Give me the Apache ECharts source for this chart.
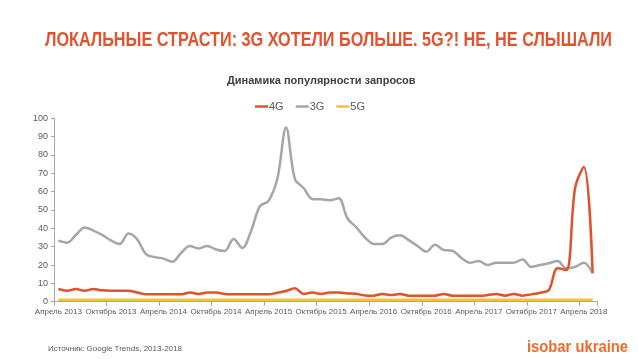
<!DOCTYPE html>
<html>
<head>
<meta charset="utf-8">
<script src="https://cdn.jsdelivr.net/npm/echarts@6/dist/echarts.min.js"></script>
<style>
html,body{margin:0;padding:0;background:#fff;}
#c{width:638px;height:359px;}
</style>
</head>
<body>
<div id="c"></div>
<script>
const categories = [
 'Апрель 2013','Май 2013','Июнь 2013','Июль 2013','Август 2013','Сентябрь 2013',
 'Октябрь 2013','Ноябрь 2013','Декабрь 2013','Январь 2014','Февраль 2014','Март 2014',
 'Апрель 2014','Май 2014','Июнь 2014','Июль 2014','Август 2014','Сентябрь 2014',
 'Октябрь 2014','Ноябрь 2014','Декабрь 2014','Январь 2015','Февраль 2015','Март 2015',
 'Апрель 2015','Май 2015','Июнь 2015','Июль 2015','Август 2015','Сентябрь 2015',
 'Октябрь 2015','Ноябрь 2015','Декабрь 2015','Январь 2016','Февраль 2016','Март 2016',
 'Апрель 2016','Май 2016','Июнь 2016','Июль 2016','Август 2016','Сентябрь 2016',
 'Октябрь 2016','Ноябрь 2016','Декабрь 2016','Январь 2017','Февраль 2017','Март 2017',
 'Апрель 2017','Май 2017','Июнь 2017','Июль 2017','Август 2017','Сентябрь 2017',
 'Октябрь 2017','Ноябрь 2017','Декабрь 2017','Январь 2018','Февраль 2018','Март 2018',
 'Апрель 2018','Май 2018'
];
const values4G = [
 6.9,6,6.9,6,6.9,6.2,6,6,6,5,4,4,
 4,4,4,5,4.2,5,5,4.2,4,4,4,4,
 4,4.9,5.8,7.3,4.2,5,4.2,5,5,4.5,4.3,3.4,
 3.3,4.2,3.6,4.2,3.3,3.3,3.3,3.3,4.2,3.3,3.3,3.3,
 3.3,3.6,4.2,3.3,4.2,3.3,4,4.9,6.4,18.2,17.3,62,
 73.5,15.5
];
const values3G = [
 33.3,32.2,36.4,40.4,38.8,36.4,33.4,31.5,37.2,34,26,24.3,
 23.5,21.8,26.5,30.4,29,30.4,28.5,27.7,34.2,29.3,38.5,52,
 55,67,95,67,62,56,55.8,55.3,56.4,45.5,40.6,35,
 31.5,31.4,35,36.2,33.6,30.4,27.3,31,28.2,27.8,23.9,21.2,
 22.2,20,21.3,21.3,21.3,23,19,20,21,22.2,18.2,19,
 21.3,15.5
];
const values5G = [
 1,1,1,1,1,1,1,1,1,1,1,1,
 1,1,1,1,1,1,1,1,1,1,1,1,
 1,1,1,1,1,1,1,1,1,1,1,1,
 1,1,1,1,1,1,1,1,1,1,1,1,
 1,1,1,1,1,1,1,1,1,1,1,1,
 1,1
];
const seriesNames = ['4G','3G','5G'];
const seriesColors = ['#e0522b','#a6a6a6','#f5c232'];
const yTicks = {min:0, max:100, interval:10};

const sans = "'Liberation Sans',Arial,sans-serif";
const titleText = 'ЛОКАЛЬНЫЕ СТРАСТИ: 3G ХОТЕЛИ БОЛЬШЕ. 5G?! НЕ, НЕ СЛЫШАЛИ';
const logoText = 'isobar ukraine';

function measure(txt, font){
  const cv = document.createElement('canvas').getContext('2d');
  cv.font = font; return cv.measureText(txt).width;
}
const titleFont = "bold 20px 'Liberation Sans'";
const titleW = measure(titleText, titleFont);
const titleScale = 567 / titleW;
const logoFont = "bold 17px 'Liberation Sans'";
const logoW = measure(logoText, logoFont);
const logoScale = 101 / logoW;

const chart = echarts.init(document.getElementById('c'), null, {renderer:'canvas'});
const allValues = [values4G, values3G, values5G];
chart.setOption({
  animation:false,
  backgroundColor:'#ffffff',
  title:[
    {text:'Динамика популярности запросов', left:222, top:70,
     textStyle:{color:'#404040', fontSize:11, fontWeight:'bold', fontFamily:sans}},
    {text:'Источник: Google Trends, 2013-2018', left:43, top:340,
     textStyle:{color:'#595959', fontSize:8, fontWeight:'normal', fontFamily:sans}}
  ],
  graphic:[
    {type:'text', x:45, y:40, scaleX:titleScale, scaleY:1,
     style:{text:titleText, font:titleFont, fill:'#e2532d', verticalAlign:'middle'}},
    {type:'text', x:527, y:347, scaleX:logoScale, scaleY:1,
     style:{text:logoText, font:logoFont, fill:'#ef6a2a', verticalAlign:'middle'}}
  ],
  legend:{
    data:seriesNames, left:250, top:96, icon:'rect', itemWidth:13, itemHeight:2.5, itemGap:12,
    textStyle:{color:'#595959', fontSize:11, fontFamily:sans, padding:[0,0,0,-4]}
  },
  grid:{left:54, right:41, top:118.3, bottom:57.3, containLabel:false},
  xAxis:{
    type:'category', data:categories, boundaryGap:true,
    axisLine:{lineStyle:{color:'#a6a6a6', width:1}},
    axisTick:{show:true, interval:5, length:4, lineStyle:{color:'#a6a6a6'}},
    axisLabel:{interval:5, color:'#595959', fontSize:8, fontFamily:sans, margin:6}
  },
  yAxis:{
    type:'value', min:yTicks.min, max:yTicks.max, interval:yTicks.interval,
    axisLine:{show:true, lineStyle:{color:'#a6a6a6', width:1}},
    axisTick:{show:true, length:3, lineStyle:{color:'#a6a6a6'}},
    splitLine:{show:false},
    axisLabel:{color:'#595959', fontSize:9, fontFamily:sans, margin:6}
  },
  series: seriesNames.map((n,i)=>({
    name:n, type:'line', data:allValues[i], smooth:0.35, showSymbol:false, symbol:'none',
    z: i===2 ? 1 : (i===0 ? 3 : 2),
    lineStyle:{color:seriesColors[i], width:2.5},
    itemStyle:{color:seriesColors[i]}
  }))
});
</script>
</body>
</html>
